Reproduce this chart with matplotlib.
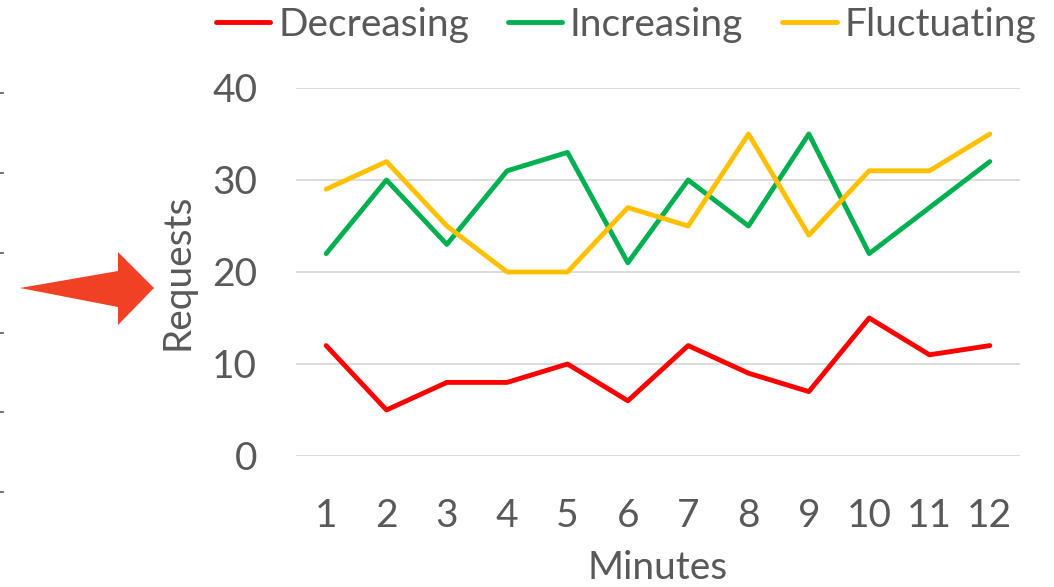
import matplotlib
matplotlib.use("Agg")
import matplotlib.pyplot as plt
from matplotlib.patches import Polygon
from matplotlib.lines import Line2D

minutes = [1, 2, 3, 4, 5, 6, 7, 8, 9, 10, 11, 12]
decreasing = [12, 5, 8, 8, 10, 6, 12, 9, 7, 15, 11, 12]
increasing = [22, 30, 23, 31, 33, 21, 30, 25, 35, 22, 27, 32]
fluctuating = [29, 32, 25, 20, 20, 27, 25, 35, 24, 31, 31, 35]
series_names = ["Decreasing", "Increasing", "Fluctuating"]
y_ticks = [0, 10, 20, 30, 40]

plt.rcParams['font.family'] = ['Lato', 'DejaVu Sans']
text_color = "#595959"
fs = 28
W, H = 1054, 587
fig = plt.figure(figsize=(W / 100, H / 100), dpi=100)
ax = fig.add_axes([296 / W, 1 - 456 / H, (1020 - 296) / W, (456 - 88) / H])

colors = ["#FF0000", "#00B050", "#FFC000"]
for vals, name, c in zip([decreasing, increasing, fluctuating], series_names, colors):
    ax.plot(minutes, vals, color=c, lw=3.5, label=name, solid_joinstyle="round",
            solid_capstyle="round")

ax.set_xlim(0.5, 12.5)
ax.set_ylim(0, 40)
ax.set_yticks(y_ticks)
ax.set_xticks(minutes)
ax.grid(axis="y", color="#D9D9D9", lw=1.3)
ax.set_axisbelow(True)
for s in ax.spines.values():
    s.set_visible(False)
ax.tick_params(axis="both", length=0, labelsize=fs, labelcolor=text_color)
ax.tick_params(axis="y", pad=28)
ax.tick_params(axis="x", pad=30)
ax.set_ylabel("Requests", fontsize=fs, color=text_color, labelpad=12)
ax.set_xlabel("Minutes", fontsize=fs, color=text_color, labelpad=12)

handles = [Line2D([], [], color=c, lw=3.5, solid_capstyle="round") for c in colors]
fig.legend(handles, series_names, loc="center", bbox_to_anchor=(626 / W, 1 - 25 / H),
           ncol=3, frameon=False, fontsize=fs, labelcolor=text_color,
           handlelength=1.4, handletextpad=0.2, columnspacing=1.0,
           borderaxespad=0, borderpad=0)

# block arrow pointing at the axis
arrow_px = [(20, 288), (118, 271), (118, 252), (154, 288), (118, 325), (118, 307)]
fig.patches.append(Polygon([(x / W, 1 - y / H) for x, y in arrow_px], closed=True,
                           transform=fig.transFigure, facecolor="#F04125",
                           edgecolor="none"))

# small dash marks along the left edge
for y in [93, 173, 253, 333, 412, 492]:
    fig.add_artist(Line2D([0, 2.5 / W], [1 - y / H] * 2, transform=fig.transFigure,
                          color="#555555", lw=1.2))

fig.savefig("out.png", dpi=100, facecolor="white")
